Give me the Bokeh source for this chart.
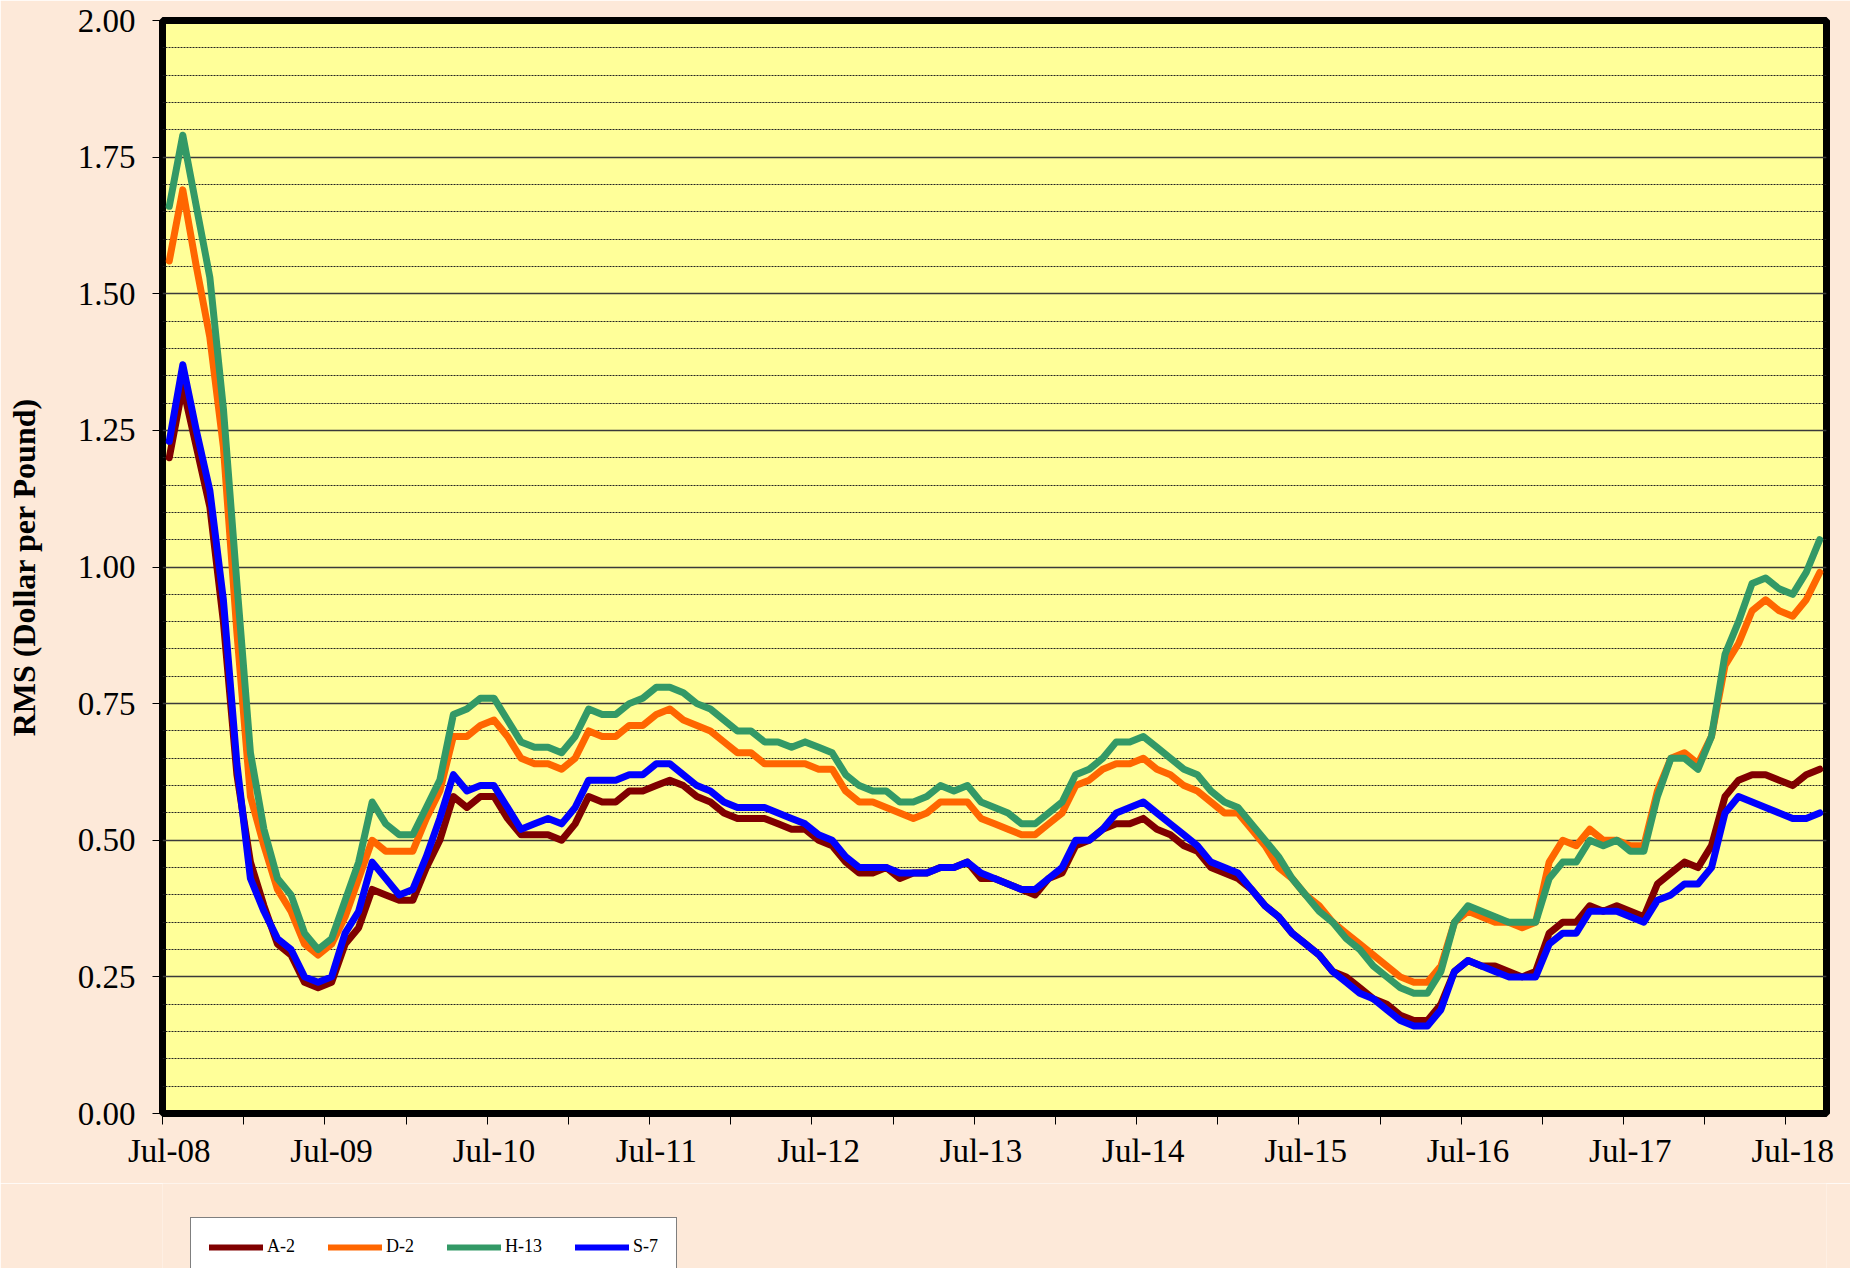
from bokeh.plotting import figure
from bokeh.layouts import column
from bokeh.models import Range1d, FixedTicker, Legend, LegendItem
from bokeh.embed import file_html
from bokeh.resources import INLINE

# Monthly RMS prices, Jul-08 .. Sep-18 (dollar per pound)
a2 = [1.20, 1.33, 1.22, 1.11, 0.90, 0.62, 0.46, 0.38, 0.31, 0.29, 0.24, 0.23, 0.24, 0.31, 0.34, 0.41, 0.40, 0.39, 0.39, 0.45, 0.50,
      0.58, 0.56, 0.58, 0.58, 0.54, 0.51, 0.51, 0.51, 0.50, 0.53, 0.58, 0.57, 0.57, 0.59, 0.59, 0.60, 0.61, 0.60, 0.58, 0.57, 0.55,
      0.54, 0.54, 0.54, 0.53, 0.52, 0.52, 0.50, 0.49, 0.46, 0.44, 0.44, 0.45, 0.43, 0.44, 0.44, 0.45, 0.45, 0.46, 0.43, 0.43, 0.42,
      0.41, 0.40, 0.43, 0.44, 0.49, 0.50, 0.52, 0.53, 0.53, 0.54, 0.52, 0.51, 0.49, 0.48, 0.45, 0.44, 0.43, 0.41, 0.38, 0.36, 0.33,
      0.31, 0.29, 0.26, 0.25, 0.23, 0.21, 0.20, 0.18, 0.17, 0.17, 0.20, 0.26, 0.28, 0.27, 0.27, 0.26, 0.25, 0.26, 0.33, 0.35, 0.35,
      0.38, 0.37, 0.38, 0.37, 0.36, 0.42, 0.44, 0.46, 0.45, 0.49, 0.58, 0.61, 0.62, 0.62, 0.61, 0.60, 0.62, 0.63]
d2 = [1.56, 1.69, 1.55, 1.42, 1.22, 0.88, 0.58, 0.49, 0.41, 0.37, 0.31, 0.29, 0.31, 0.36, 0.43, 0.50, 0.48, 0.48, 0.48, 0.54, 0.59,
      0.69, 0.69, 0.71, 0.72, 0.69, 0.65, 0.64, 0.64, 0.63, 0.65, 0.70, 0.69, 0.69, 0.71, 0.71, 0.73, 0.74, 0.72, 0.71, 0.70, 0.68,
      0.66, 0.66, 0.64, 0.64, 0.64, 0.64, 0.63, 0.63, 0.59, 0.57, 0.57, 0.56, 0.55, 0.54, 0.55, 0.57, 0.57, 0.57, 0.54, 0.53, 0.52,
      0.51, 0.51, 0.53, 0.55, 0.60, 0.61, 0.63, 0.64, 0.64, 0.65, 0.63, 0.62, 0.60, 0.59, 0.57, 0.55, 0.55, 0.52, 0.49, 0.45, 0.43,
      0.40, 0.38, 0.35, 0.33, 0.31, 0.29, 0.27, 0.25, 0.24, 0.24, 0.27, 0.35, 0.37, 0.36, 0.35, 0.35, 0.34, 0.35, 0.46, 0.50, 0.49,
      0.52, 0.50, 0.50, 0.49, 0.49, 0.59, 0.65, 0.66, 0.64, 0.69, 0.82, 0.86, 0.92, 0.94, 0.92, 0.91, 0.94, 0.99]
h13 = [1.66, 1.79, 1.66, 1.53, 1.29, 0.97, 0.66, 0.52, 0.43, 0.40, 0.33, 0.30, 0.32, 0.39, 0.46, 0.57, 0.53, 0.51, 0.51, 0.56, 0.61,
       0.73, 0.74, 0.76, 0.76, 0.72, 0.68, 0.67, 0.67, 0.66, 0.69, 0.74, 0.73, 0.73, 0.75, 0.76, 0.78, 0.78, 0.77, 0.75, 0.74, 0.72,
       0.70, 0.70, 0.68, 0.68, 0.67, 0.68, 0.67, 0.66, 0.62, 0.60, 0.59, 0.59, 0.57, 0.57, 0.58, 0.60, 0.59, 0.60, 0.57, 0.56, 0.55,
       0.53, 0.53, 0.55, 0.57, 0.62, 0.63, 0.65, 0.68, 0.68, 0.69, 0.67, 0.65, 0.63, 0.62, 0.59, 0.57, 0.56, 0.53, 0.50, 0.47, 0.43,
       0.40, 0.37, 0.35, 0.32, 0.30, 0.27, 0.25, 0.23, 0.22, 0.22, 0.26, 0.35, 0.38, 0.37, 0.36, 0.35, 0.35, 0.35, 0.43, 0.46, 0.46,
       0.50, 0.49, 0.50, 0.48, 0.48, 0.58, 0.65, 0.65, 0.63, 0.69, 0.84, 0.90, 0.97, 0.98, 0.96, 0.95, 0.99, 1.05]
s7 = [1.23, 1.37, 1.25, 1.14, 0.94, 0.64, 0.43, 0.37, 0.32, 0.30, 0.25, 0.24, 0.25, 0.33, 0.37, 0.46, 0.43, 0.40, 0.41, 0.47, 0.54,
      0.62, 0.59, 0.60, 0.60, 0.56, 0.52, 0.53, 0.54, 0.53, 0.56, 0.61, 0.61, 0.61, 0.62, 0.62, 0.64, 0.64, 0.62, 0.60, 0.59, 0.57,
      0.56, 0.56, 0.56, 0.55, 0.54, 0.53, 0.51, 0.50, 0.47, 0.45, 0.45, 0.45, 0.44, 0.44, 0.44, 0.45, 0.45, 0.46, 0.44, 0.43, 0.42,
      0.41, 0.41, 0.43, 0.45, 0.50, 0.50, 0.52, 0.55, 0.56, 0.57, 0.55, 0.53, 0.51, 0.49, 0.46, 0.45, 0.44, 0.41, 0.38, 0.36, 0.33,
      0.31, 0.29, 0.26, 0.24, 0.22, 0.21, 0.19, 0.17, 0.16, 0.16, 0.19, 0.26, 0.28, 0.27, 0.26, 0.25, 0.25, 0.25, 0.31, 0.33, 0.33,
      0.37, 0.37, 0.37, 0.36, 0.35, 0.39, 0.40, 0.42, 0.42, 0.45, 0.55, 0.58, 0.57, 0.56, 0.55, 0.54, 0.54, 0.55]

series_names = ["A-2", "D-2", "H-13", "S-7"]
series_colors = ["#800000", "#FF6600", "#339966", "#0000FF"]
tick_labels = ["Jul-08", "Jul-09", "Jul-10", "Jul-11", "Jul-12", "Jul-13",
               "Jul-14", "Jul-15", "Jul-16", "Jul-17", "Jul-18"]
y_ticks = [0.0, 0.25, 0.5, 0.75, 1.0, 1.25, 1.5, 1.75, 2.0]

n = len(a2)
x = list(range(n))
all_series = [a2, d2, h13, s7]

FONT = "Liberation Serif"
BG = "#FDE9D9"
W = 1850

p = figure(width=W, height=1183, output_backend="svg", toolbar_location=None,
           x_range=Range1d(-0.5, n - 0.5), y_range=Range1d(0, 2.0),
           min_border_left=162, min_border_right=24, min_border_top=20, min_border_bottom=70)
p.background_fill_color = "#FFFF99"
p.border_fill_color = BG
p.outline_line_color = "black"
p.outline_line_width = 7

# x axis: labels at each July, tick marks at half-year boundaries
label_pos = [12 * k for k in range(len(tick_labels))]
p.xaxis.ticker = FixedTicker(ticks=label_pos, minor_ticks=[6 * k - 0.5 for k in range(21)])
p.xaxis.major_label_overrides = {pos: lab for pos, lab in zip(label_pos, tick_labels)}
p.xaxis.major_tick_out = 0
p.xaxis.major_tick_in = 0
p.xaxis.minor_tick_out = 11
p.xaxis.minor_tick_in = 0
p.xaxis.minor_tick_line_color = "black"
p.xaxis.minor_tick_line_width = 1
p.xaxis.major_label_standoff = 8
p.xaxis.axis_line_color = None
p.xaxis.major_label_text_font = FONT
p.xaxis.major_label_text_font_size = "33px"
p.xaxis.major_label_text_color = "black"

# y axis
p.yaxis.ticker = FixedTicker(ticks=y_ticks, minor_ticks=[round(0.05 * k, 2) for k in range(41)])
p.yaxis.major_label_overrides = {v: f"{v:.2f}" for v in y_ticks}
p.yaxis.major_tick_out = 10
p.yaxis.major_tick_in = 0
p.yaxis.minor_tick_out = 0
p.yaxis.minor_tick_in = 0
p.yaxis.major_tick_line_color = "black"
p.yaxis.axis_line_color = None
p.yaxis.major_label_standoff = 17
p.yaxis.major_label_text_font = FONT
p.yaxis.major_label_text_font_size = "33px"
p.yaxis.major_label_text_color = "black"
p.yaxis.axis_label = "RMS (Dollar per Pound)"
p.yaxis.axis_label_text_font = FONT
p.yaxis.axis_label_text_font_size = "32px"
p.yaxis.axis_label_text_font_style = "bold"
p.yaxis.axis_label_text_color = "black"
p.yaxis.axis_label_standoff = 33

# grids
p.xgrid.grid_line_color = None
p.ygrid.grid_line_color = "#3a3a3a"
p.ygrid.grid_line_width = 1.5
p.ygrid.minor_grid_line_color = "#222222"
p.ygrid.minor_grid_line_width = 1
p.ygrid.minor_grid_line_dash = "2 1"

for vals, col in zip(all_series, series_colors):
    p.line(x, vals, line_color=col, line_width=7, line_join="round", line_cap="round")

# legend strip below the chart (its frame lines up with the chart frame)
leg_fig = figure(width=W, height=85, output_backend="svg", toolbar_location=None,
                 x_range=Range1d(-20, -10), y_range=Range1d(0, 1),
                 x_axis_type=None, y_axis_type=None, min_border=0)
leg_fig.background_fill_color = BG
leg_fig.border_fill_color = BG
leg_fig.outline_line_color = None
leg_fig.grid.visible = False

# same series, kept outside the strip's visible range: only their legend glyphs show
leg_renderers = [leg_fig.line(x, vals, line_color=col, line_width=6, line_cap="round")
                 for vals, col in zip(all_series, series_colors)]
legend = Legend(items=[LegendItem(label=nm, renderers=[r]) for nm, r in zip(series_names, leg_renderers)],
                orientation="horizontal", location=(28, -8))
legend.label_text_font = FONT
legend.label_text_font_size = "18px"
legend.label_text_color = "black"
legend.glyph_width = 54
legend.glyph_height = 20
legend.label_standoff = 4
legend.spacing = 33
legend.padding = 18
legend.margin = 0
legend.border_line_color = "black"
legend.border_line_width = 1
legend.background_fill_color = "white"
legend.background_fill_alpha = 1.0
leg_fig.add_layout(legend, "center")

layout = column(p, leg_fig, spacing=0)
open("out.html", "w").write(file_html(layout, INLINE))
